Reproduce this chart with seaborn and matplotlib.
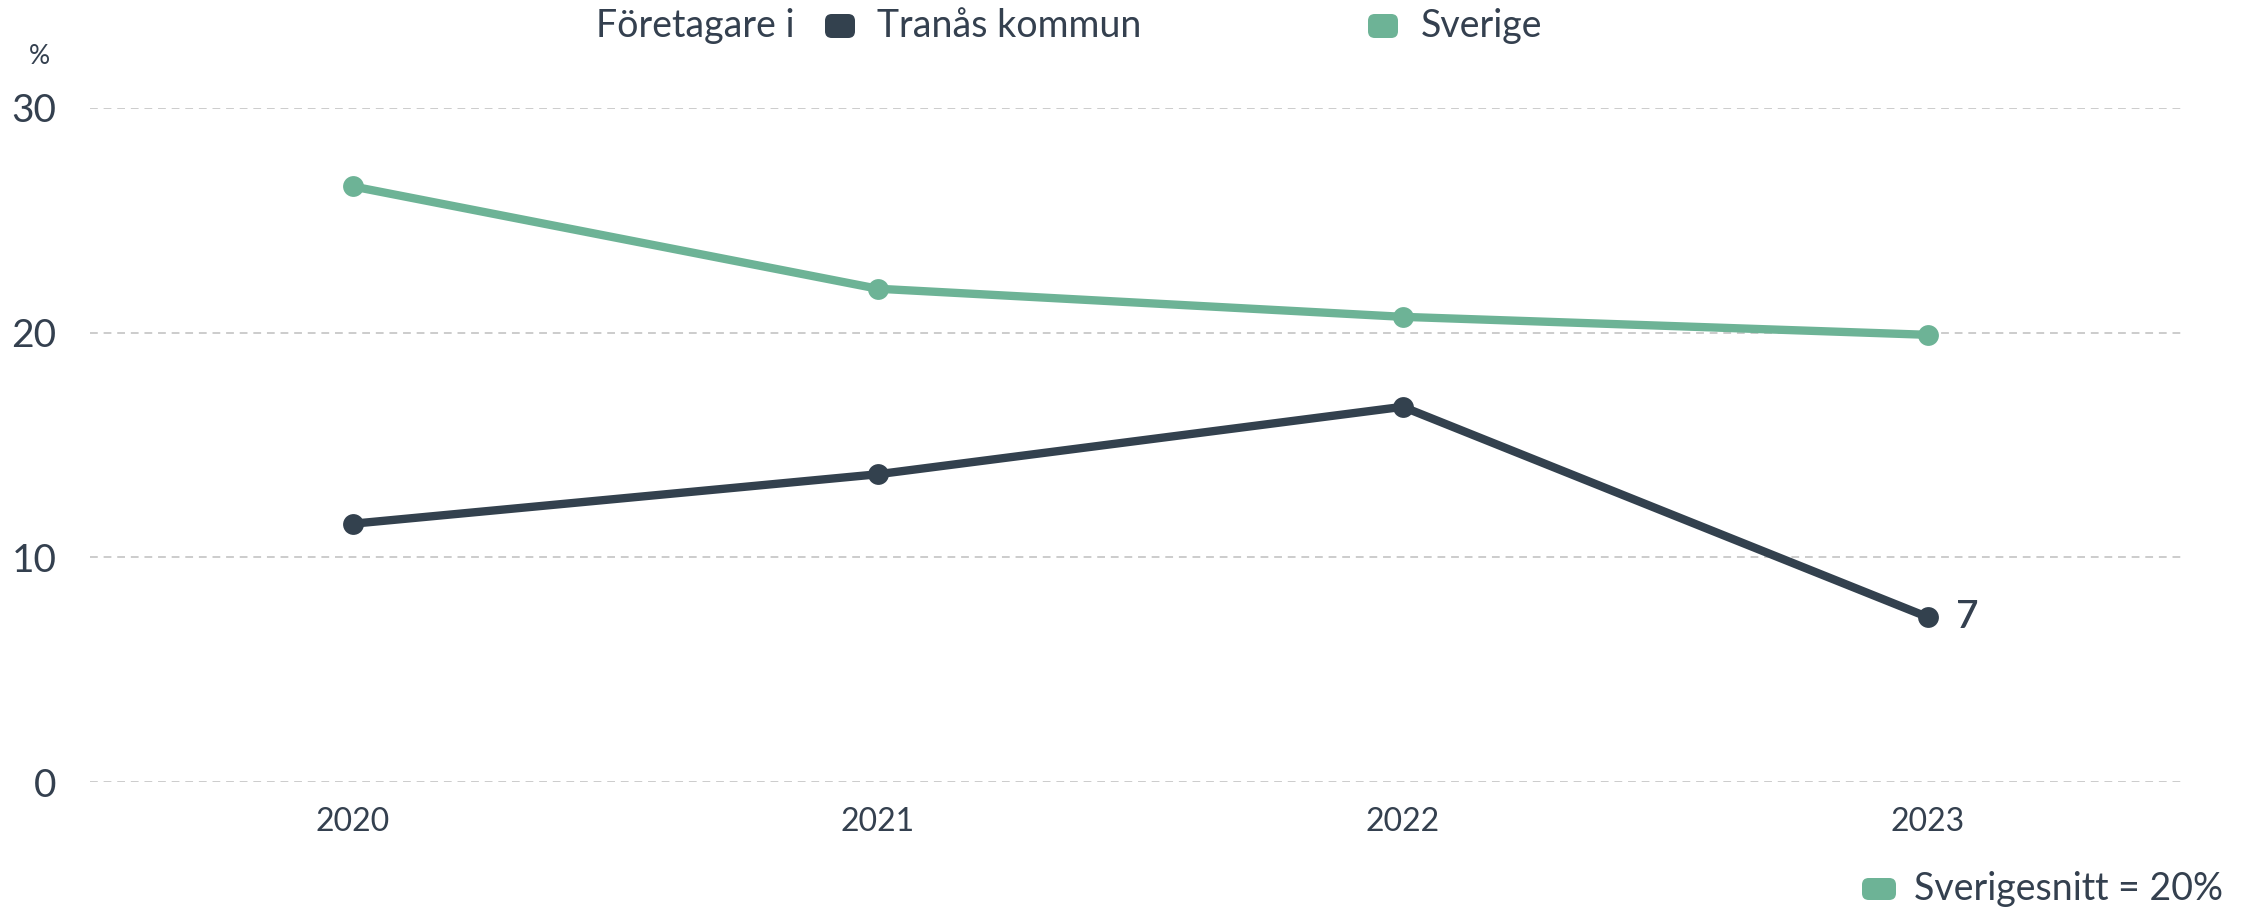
import matplotlib
matplotlib.use("Agg")
import matplotlib.pyplot as plt
import seaborn as sns
import pandas as pd
from matplotlib.patches import FancyBboxPatch

years = [2020, 2021, 2022, 2023]
tranas = [11.5, 13.7, 16.7, 7.35]
sverige = [26.5, 21.95, 20.7, 19.9]
series_names = ["Tranås kommun", "Sverige"]
legend_prefix = "Företagare i"
avg_label = "Sverigesnitt = 20%"
end_label = "7"
y_ticks = [0, 10, 20, 30]

DARK = "#33414e"
GREEN = "#6db396"
TEXT = "#34404f"

sns.set_theme(style="white")
plt.rcParams["font.family"] = ["Lato", "DejaVu Sans"]

df = pd.DataFrame({
    "year": years * 2,
    "value": tranas + sverige,
    "series": [series_names[0]] * 4 + [series_names[1]] * 4,
})

fig = plt.figure(figsize=(22.51, 9.10), dpi=100)
ax = fig.add_axes([0.040, 0.1402, 0.9307, 0.7415])

sns.lineplot(data=df, x="year", y="value", hue="series",
             palette={series_names[0]: DARK, series_names[1]: GREEN},
             hue_order=[series_names[1], series_names[0]],
             marker="o", markersize=15, markeredgewidth=0, linewidth=6,
             legend=False, ax=ax)

ax.set_xlim(2019.5, 2023.49)
ax.set_ylim(0, 30)
ax.set_xticks(years)
ax.set_xticklabels([str(y) for y in years])
ax.set_yticks(y_ticks)
ax.set_xlabel("")
ax.set_ylabel("")
for s in ax.spines.values():
    s.set_visible(False)
ax.grid(axis="y", color="#cccccc", linestyle=(0, (4, 3)), linewidth=1.4)
ax.set_axisbelow(True)
ax.tick_params(axis="y", length=0, pad=24, labelsize=28, labelcolor=TEXT)
ax.tick_params(axis="x", length=0, pad=18, labelsize=23, labelcolor=TEXT)

ax.annotate(end_label, xy=(years[-1], tranas[-1]), xytext=(20, 0),
            textcoords="offset points", ha="left", va="center",
            fontsize=28, color=TEXT, fontweight="semibold")

fig.text(39 / 2251, 1 - 57 / 910, "%", fontsize=19, color=TEXT,
         ha="center", va="center")

# Top legend
ly = 1 - 26 / 910
fig.text(596 / 2251, ly, legend_prefix, fontsize=27, color=TEXT,
         ha="left", va="center")

def square(xc, yc, color, w=30, h=24):
    p = FancyBboxPatch((xc / 2251 - w / 2 / 2251, yc - h / 2 / 910),
                       w / 2251, h / 910,
                       boxstyle="round,pad=0,rounding_size=0.003",
                       transform=fig.transFigure, facecolor=color,
                       edgecolor="none", mutation_aspect=2251 / 910)
    fig.patches.append(p)

square(840, ly, DARK)
fig.text(877 / 2251, ly, series_names[0], fontsize=27, color=TEXT,
         ha="left", va="center")
square(1383, ly, GREEN)
fig.text(1421 / 2251, ly, series_names[1], fontsize=27, color=TEXT,
         ha="left", va="center")

# Bottom-right legend
by = 1 - 889 / 910
square(1879, by, GREEN, w=34, h=22)
fig.text(1914 / 2251, by, avg_label, fontsize=27, color=TEXT,
         ha="left", va="center")

fig.savefig("out.png", dpi=100)
